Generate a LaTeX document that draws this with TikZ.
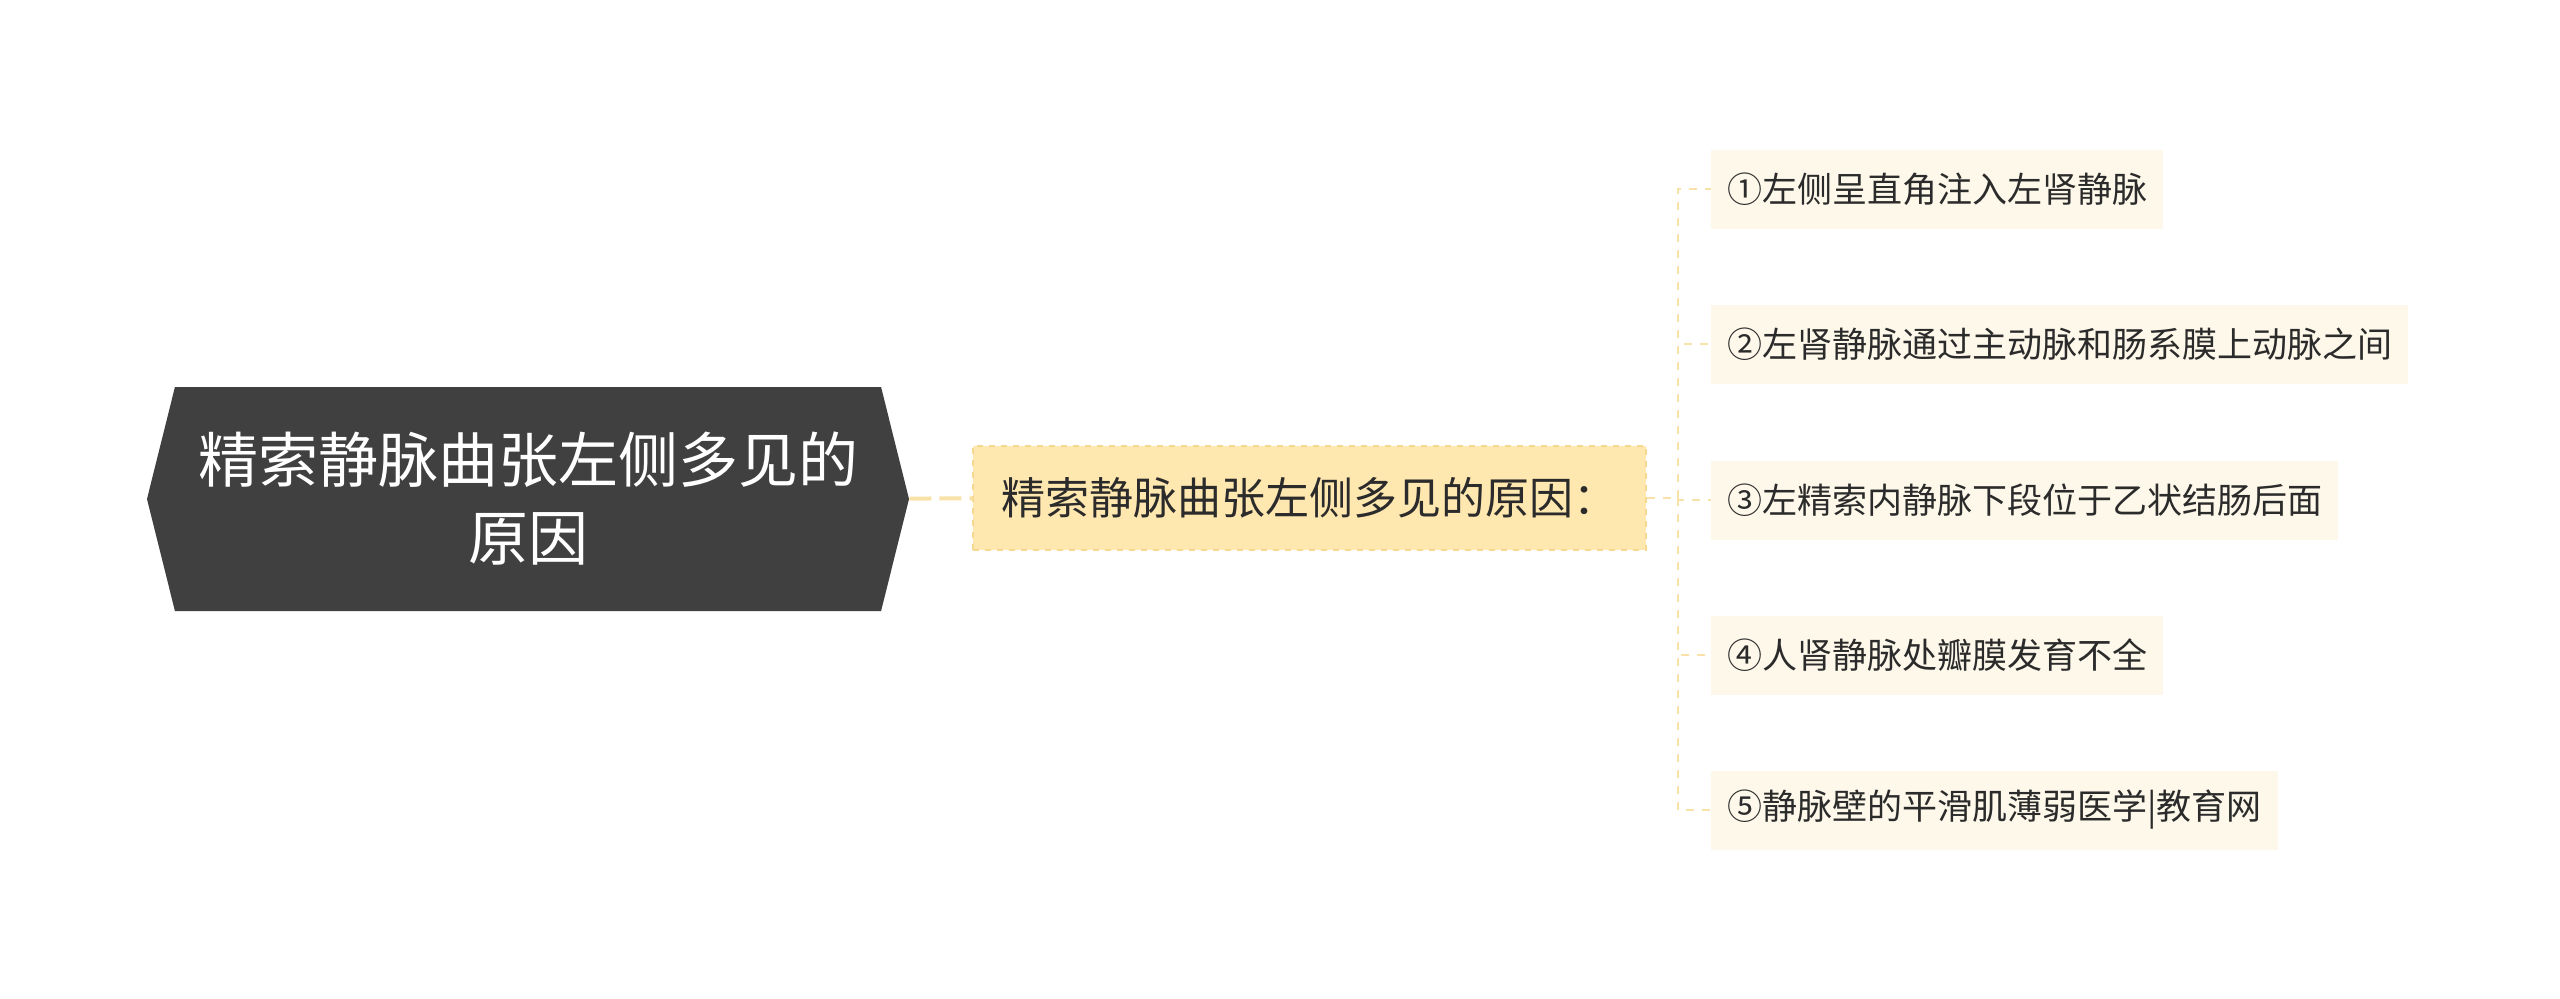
\documentclass[tikz,border=0pt]{standalone}
\usepackage{fontspec}
\setmainfont{Noto Sans CJK SC}
\usepackage{tikz}
\usetikzlibrary{positioning,calc,shapes.symbols}
\definecolor{mmdark}{HTML}{404040}
\definecolor{mmgold}{HTML}{FFE7B0}
\definecolor{mmgoldline}{HTML}{F6D98E}
\definecolor{mmcream}{HTML}{FDF8EA}
\definecolor{mmlink}{HTML}{F8E2A8}
\definecolor{mmtext}{HTML}{2B2B2B}
\tikzset{
  rootnode/.style = {shape=signal, signal to=west and east, signal pointer angle=152,
                     fill=mmdark, text=white, minimum width=381pt, minimum height=112pt,
                     font=\fontsize{30pt}{39pt}\selectfont, align=center, inner sep=0pt},
  topic/.style    = {rectangle, fill=mmgold, draw=mmgoldline, dashed, line width=0.8pt,
                     minimum width=336.5pt, minimum height=52pt, text=mmtext,
                     font=\fontsize{22pt}{26pt}\selectfont},
  leaf/.style     = {rectangle, fill=mmcream, anchor=west, minimum height=39.5pt,
                     inner xsep=8pt, text=mmtext, font=\fontsize{17.5pt}{21pt}\selectfont},
  link/.style     = {draw=mmlink, line width=1pt, dash pattern=on 4pt off 4pt},
  mainlink/.style = {draw=mmlink, line width=2pt, dash pattern=on 11pt off 4pt},
}
\begin{document}
\begin{tikzpicture}[x=0.5pt,y=-0.5pt]
  \useasboundingbox (0,0) rectangle (2560,998);
  \node[rootnode] (root) at (528,499) {精索静脉曲张左侧多见的\\原因};
  \node[topic] (reason) at (1309.5,498) {精索静脉曲张左侧多见的原因：};
  \coordinate (hub) at (1678,498);
  \foreach \i/\y/\txt in {1/189/①左侧呈直角注入左肾静脉,
                          2/344/②左肾静脉通过主动脉和肠系膜上动脉之间,
                          3/500/③左精索内静脉下段位于乙状结肠后面,
                          4/655/④人肾静脉处瓣膜发育不全,
                          5/810/⑤静脉壁的平滑肌薄弱医学|教育网}{
    \node[leaf] (leaf\i) at (1711,\y) {\txt};
  }
  \draw[mainlink] (root) -- (reason);
  \draw[link] (reason) -- (hub);
  \foreach \i in {1,...,5}{
    \draw[link] (hub) |- (leaf\i.west);
  }
\end{tikzpicture}
\end{document}
